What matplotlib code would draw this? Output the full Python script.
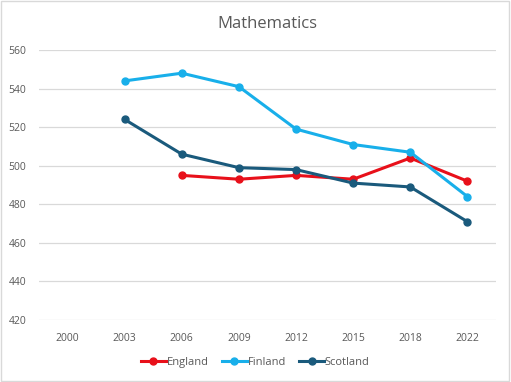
import numpy as np
import matplotlib
matplotlib.use('Agg')
from matplotlib import pyplot as plt

# PISA maths scores
years = ['2000', '2003', '2006', '2009', '2012', '2015', '2018', '2022']
england = [np.nan, np.nan, 495, 493, 495, 493, 504, 492]
finland = [np.nan, 544, 548, 541, 519, 511, 507, 484]
scotland = [np.nan, 524, 506, 499, 498, 491, 489, 471]

plt.rcParams['font.family'] = ['Open Sans', 'DejaVu Sans']

fig = plt.figure(figsize=(5.11, 3.82), dpi=100)
ax = fig.add_axes([0.0763, 0.1623, 0.8943, 0.7067])

x = np.arange(len(years))
series = [('England', england, '#E8101A'),
          ('Finland', finland, '#18AFEA'),
          ('Scotland', scotland, '#1A5A7C')]
for name, vals, col in series:
    ax.plot(x, vals, color=col, lw=2.2, marker='o', ms=5, label=name, zorder=3)

ax.set_xlim(-0.5, len(years) - 0.5)
ax.set_ylim(420, 560)
ax.set_yticks(range(420, 561, 20))
ax.set_xticks(x)
ax.set_xticklabels(years)
ax.grid(axis='y', color='#D9D9D9', lw=0.9)
ax.set_axisbelow(True)
for s in ax.spines.values():
    s.set_visible(False)
ax.tick_params(length=0, labelsize=7.5, colors='#595959')
ax.tick_params(axis='x', pad=9)
ax.tick_params(axis='y', pad=9)

ax.set_title('Mathematics', fontsize=12, color='#595959', pad=16)

fig.legend(loc='center', bbox_to_anchor=(0.5, 0.052), ncol=3, frameon=False,
           fontsize=8, labelcolor='#595959', handlelength=2.2, handletextpad=0.1,
           columnspacing=1.2)

# light border round the chart
fig.patches.append(plt.Rectangle((0.002, 0.003), 0.995, 0.994, transform=fig.transFigure,
                                 fill=False, edgecolor='#D9D9D9', lw=1))

plt.savefig('out.png', dpi=100)
